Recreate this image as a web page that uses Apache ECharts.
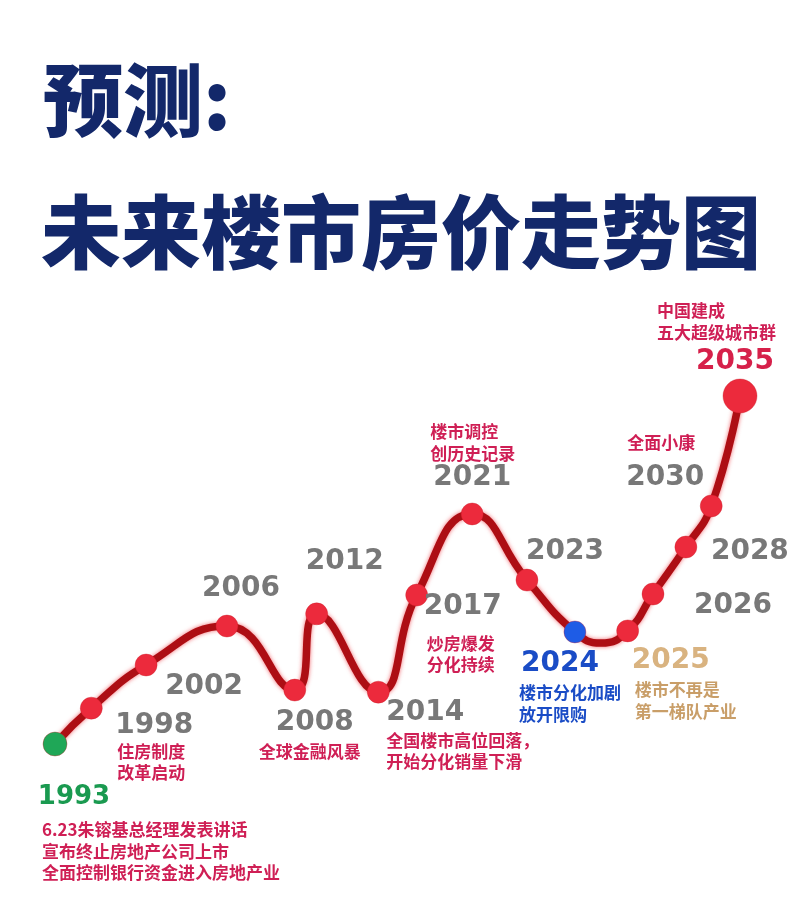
<!DOCTYPE html>
<html>
<head>
<meta charset="utf-8">
<script src="https://cdn.jsdelivr.net/npm/echarts@6/dist/echarts.min.js"></script>
<style>
html,body{margin:0;padding:0;background:#fff;}
#c{width:800px;height:908px;}
</style>
</head>
<body>
<div id="c"></div>
<script>
// ---- data ----
var years = ['1993','1998','2002','2006','2008','2012','2014','2017','2021','2023','2024','2025','2026','2028','2030','2035'];
// horizontal position along the drawn timeline (0-100) and relative price level (0-100)
var positions = [0, 5.3, 13.3, 25.1, 35.0, 38.2, 47.2, 52.8, 60.9, 68.9, 75.9, 83.6, 87.3, 92.1, 95.8, 100];
var priceLevel = [0, 10.3, 22.7, 33.9, 15.5, 37.4, 14.9, 42.8, 66.1, 47.1, 32.2, 32.5, 43.1, 56.6, 68.4, 100];
// unlabeled low point of the curve between 2024 and 2025
var dipPosition = [79.7];
var dipLevel = [29.0];
var notes = {
  '1993': ['6.23朱镕基总经理发表讲话', '宣布终止房地产公司上市', '全面控制银行资金进入房地产业'],
  '1998': ['住房制度', '改革启动'],
  '2008': ['全球金融风暴'],
  '2014': ['全国楼市高位回落，', '开始分化销量下滑'],
  '2017': ['炒房爆发', '分化持续'],
  '2021': ['楼市调控', '创历史记录'],
  '2024': ['楼市分化加剧', '放开限购'],
  '2025': ['楼市不再是', '第一梯队产业'],
  '2030': ['全面小康'],
  '2035': ['中国建成', '五大超级城市群']
};
var titleLines = ['预测:', '未来楼市房价走势图'];

// ---- styles / layout (not data) ----
var yearColor = {'1993': '#1a9a50', '2024': '#1a4cc6', '2025': '#d9b380', '2035': '#d6204a'};
var noteColor = {'2024': '#1a4cc6', '2025': '#c99e68'};
var dotColor = {'1993': '#1fa757', '2024': '#1e5ce6'};
var yearOffset = {
  '1993': [19, 53], '1998': [63, 18], '2002': [58, 22], '2006': [14, -37], '2008': [20, 33],
  '2012': [28, -52], '2014': [47, 21], '2017': [46, 12], '2021': [0, -36], '2023': [38, -28],
  '2024': [-15, 32], '2025': [43, 30], '2026': [80, 12], '2028': [64, 5], '2030': [-46, -28], '2035': [-5, -34]
};
var noteOffset = { // left edge, center of first line
  '1993': [-13, 86], '1998': [26, 43], '2008': [-36, 61], '2014': [8, 48], '2017': [10, 48],
  '2021': [-42, -82], '2024': [-56, 61], '2025': [7, 59], '2030': [-84, -63], '2035': [-83, -85]
};
var LH = 21.5;

var lineData = years.map(function (y, i) {
  var big = y === '2035';
  return {
    value: [positions[i], priceLevel[i]],
    symbolSize: big ? 34 : (y === '1993' ? 24 : 22),
    itemStyle: {color: dotColor[y] || '#ec2a3c', borderColor: 'rgba(200,30,40,0.35)', borderWidth: 1}
  };
});
dipPosition.forEach(function (x, i) {
  lineData.push({value: [x, dipLevel[i]], symbolSize: 0, symbol: 'none'});
});
lineData.sort(function (a, b) { return a.value[0] - b.value[0]; });

var yearData = years.map(function (y, i) {
  return {
    value: [positions[i], priceLevel[i]],
    label: {
      show: true,
      formatter: y,
      position: 'inside',
      offset: yearOffset[y],
      align: 'center',
      verticalAlign: 'middle',
      color: yearColor[y] || '#787878',
      fontFamily: 'DejaVu Sans',
      fontWeight: 'bold',
      fontSize: y === '1993' ? 26 : 28
    }
  };
});

var noteData = [];
years.forEach(function (y, i) {
  if (!notes[y]) return;
  var off = noteOffset[y];
  noteData.push({
    value: [positions[i], priceLevel[i]],
    label: {
      show: true,
      formatter: notes[y].join('\n'),
      position: 'inside',
      offset: [off[0], off[1] - LH / 2],
      align: 'left',
      verticalAlign: 'top',
      lineHeight: LH,
      color: noteColor[y] || '#cf1f55',
      fontFamily: 'Noto Sans CJK SC',
      fontWeight: 'bold',
      fontSize: 17
    }
  });
});

var chart = echarts.init(document.getElementById('c'), null, {renderer: 'canvas'});
chart.setOption({
  backgroundColor: '#ffffff',
  animation: false,
  title: [
    {text: titleLines[0], left: 38, top: 50, textStyle: {fontFamily: 'Noto Sans CJK SC', fontWeight: 900, fontSize: 80, color: '#13286a', lineHeight: 90}},
    {text: titleLines[1], left: 36, top: 182, textStyle: {fontFamily: 'Noto Sans CJK SC', fontWeight: 900, fontSize: 80, color: '#13286a', lineHeight: 90}}
  ],
  grid: {left: 55, right: 60, top: 396, bottom: 164},
  xAxis: {type: 'value', min: 0, max: 100, show: false},
  yAxis: {type: 'value', min: 0, max: 100, show: false},
  series: [
    {
      type: 'line',
      data: lineData,
      smooth: 0.5,
      symbol: 'circle',
      z: 3,
      lineStyle: {color: '#ad0e14', width: 7.5, shadowColor: 'rgba(235,40,50,0.7)', shadowBlur: 4},
      emphasis: {disabled: true}
    },
    {
      type: 'scatter',
      data: yearData,
      symbolSize: 0,
      z: 4,
      silent: true,
      itemStyle: {opacity: 1},
      emphasis: {disabled: true}
    },
    {
      type: 'scatter',
      data: noteData,
      symbolSize: 0,
      z: 4,
      silent: true,
      itemStyle: {opacity: 1},
      emphasis: {disabled: true}
    }
  ]
});
</script>
</body>
</html>
